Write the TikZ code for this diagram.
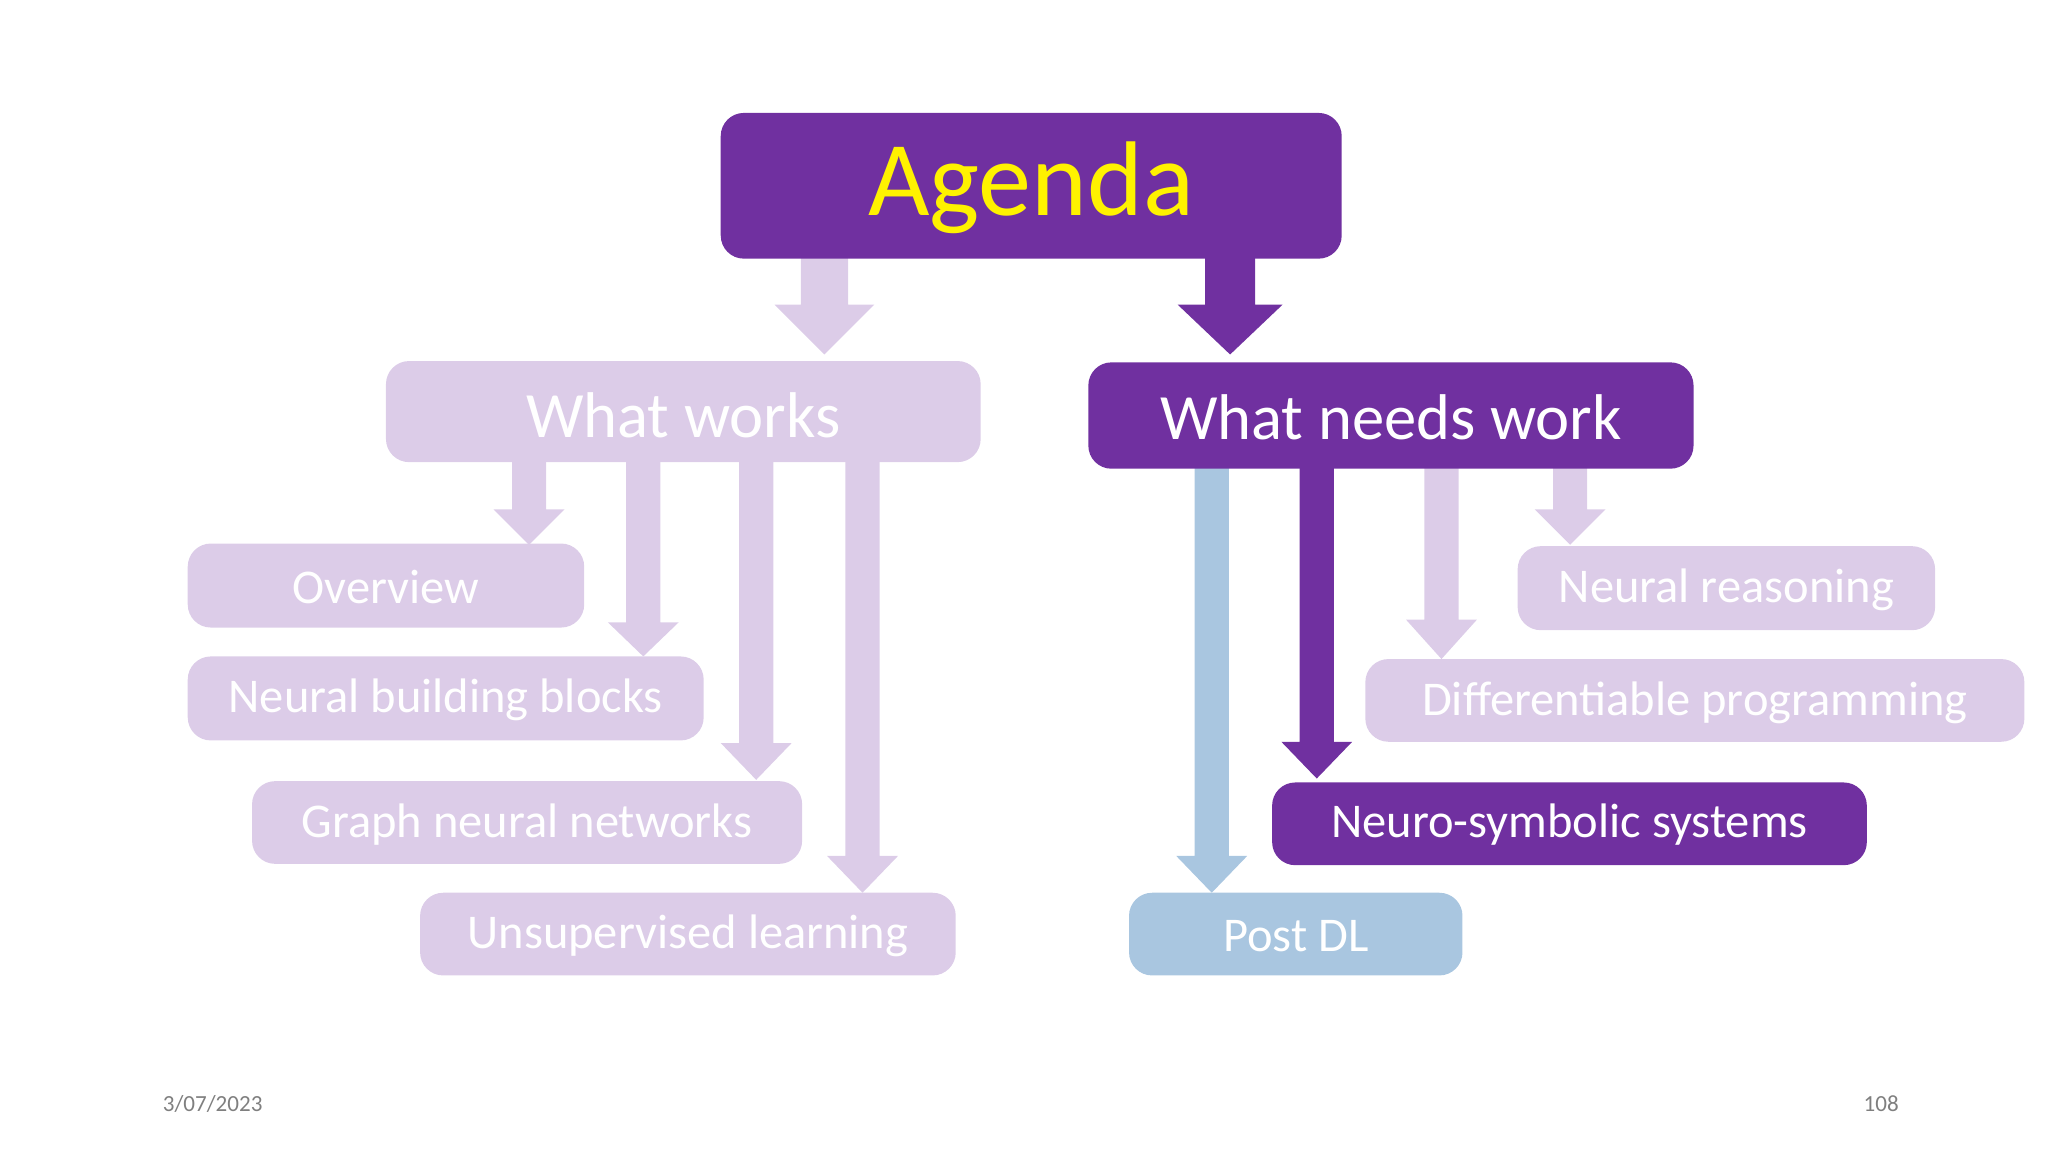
\documentclass[tikz,border=0pt]{standalone}
\usepackage{fontspec}
\setmainfont{Carlito}
\definecolor{pur}{HTML}{7030A0}
\definecolor{lav}{HTML}{DCCCE8}
\definecolor{blu}{HTML}{A9C6E0}
\definecolor{ftr}{HTML}{7F7F7F}
\newcommand\barrow[7]{% x, ytop, yheadstart, ybottom, halfshaft, halfhead, color
  \fill[#7] (#1-#5,#2) -- (#1+#5,#2) -- (#1+#5,#3) -- (#1+#6,#3) -- (#1,#4) -- (#1-#6,#3) -- (#1-#5,#3) -- cycle;}
\tikzset{
  bx/.style={rounded corners=5pt, inner sep=0pt},
  small/.style={text=white, font=\fontsize{10.5}{12}\selectfont},
}
\begin{document}
\begin{tikzpicture}[x=0.01cm,y=-0.01cm]
\useasboundingbox (0,0) rectangle (1560,877.5);
% arrows
\barrow{628}{190}{232}{270}{18}{38}{lav}
\barrow{937}{190}{232}{270}{19}{40}{pur}
\barrow{403}{345}{388}{415}{13}{27}{lav}
\barrow{490}{345}{474}{500}{13}{27}{lav}
\barrow{576}{345}{566}{594}{13}{27}{lav}
\barrow{657}{345}{652}{680}{13}{27}{lav}
\barrow{923}{350}{652}{680}{13}{27}{blu}
\barrow{1003}{350}{565}{593}{13}{27}{pur}
\barrow{1098}{350}{472}{502}{13}{27}{lav}
\barrow{1196}{350}{388}{415}{13}{27}{lav}
% boxes
\fill[pur,bx] (549,86) rectangle (1022,197);
\node (agenda) at (785.5,143) {\fontsize{23}{26}\selectfont\color{yellow}Agenda};
\fill[lav,bx] (294,275) rectangle (747,352);
\node[text=white] (works) at (520.5,316) {\fontsize{14}{16}\selectfont What works};
\fill[pur,bx] (829,276) rectangle (1290,357);
\node[text=white] (needs) at (1059.5,318) {\fontsize{14}{16}\selectfont What needs work};
\fill[lav,bx] (143,414) rectangle (445,478);
\node[small] (ov) at (294,447) {Overview};
\fill[lav,bx] (143,500) rectangle (536,564);
\node[small] (nbb) at (339.5,533) {Neural building blocks};
\fill[lav,bx] (192,595) rectangle (611,658);
\node[small] (gnn) at (401.5,628) {Graph neural networks};
\fill[lav,bx] (320,680) rectangle (728,743);
\node[small] (ul) at (524,713) {Unsupervised learning};
\fill[lav,bx] (1156,416) rectangle (1474,480);
\node[small] (nr) at (1315,449) {Neural reasoning};
\fill[lav,bx] (1040,502) rectangle (1542,565);
\node[small] (dp) at (1291,535) {Differentiable programming};
\fill[pur,bx] (969,596) rectangle (1422,659);
\node[small] (ns) at (1195.5,628) {Neuro-symbolic systems};
\fill[blu,bx] (860,680) rectangle (1114,743);
\node[small] (pdl) at (987,713) {Post DL};
% footer
\node[text=ftr,font=\fontsize{5}{6}\selectfont] (date) at (162,841) {3/07/2023};
\node[text=ftr,font=\fontsize{5}{6}\selectfont] (page) at (1433,841) {108};
\end{tikzpicture}
\end{document}
